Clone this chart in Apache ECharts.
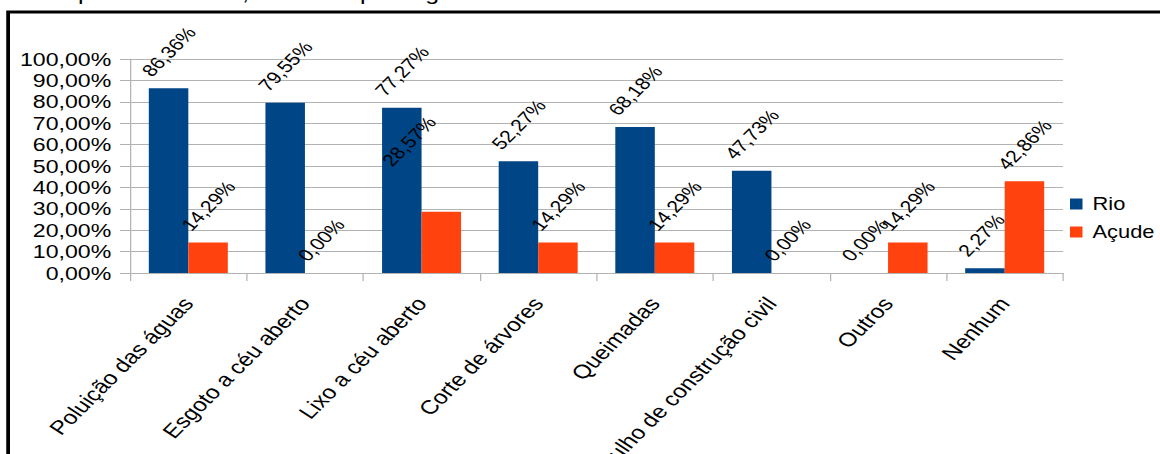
<!DOCTYPE html>
<html>
<head>
<meta charset="utf-8">
<script src="https://cdn.jsdelivr.net/npm/echarts@6/dist/echarts.min.js"></script>
<style>
  html, body { margin: 0; padding: 0; background: #fff; overflow: hidden; }
  #wrap { width: 1160px; height: 454px; overflow: hidden; position: relative; }
  /* the chart is laid out narrower and widened horizontally */
  #chart { width: 928px; height: 454px; transform: scaleX(1.25); transform-origin: 0 0; }
</style>
</head>
<body>
<div id="wrap"><div id="chart"></div></div>
<script>
// Problemas ambientais citados, por tipo de ambiente (valores em %)
const categories = [
  'Poluição das águas',
  'Esgoto a céu aberto',
  'Lixo a céu aberto',
  'Corte de árvores',
  'Queimadas',
  'Entulho de construção civil',
  'Outros',
  'Nenhum'
];
const rio   = [86.36, 79.55, 77.27, 52.27, 68.18, 47.73, 0.00, 2.27];
const acude = [14.29, 0.00, 28.57, 14.29, 14.29, 0.00, 14.29, 42.86];
const seriesNames = ['Rio', 'Açude'];
const yTicks = [0, 10, 20, 30, 40, 50, 60, 70, 80, 90, 100];

const pct = v => Number(v).toFixed(2).replace('.', ',') + '%';
const FONT = '"Liberation Sans", Arial, sans-serif';
const GRID = '#b3b3b3';

const chart = echarts.init(document.getElementById('chart'), null, { renderer: 'svg' });

const dataLabel = {
  show: true,
  position: [-2, -14],
  rotate: 51,
  align: 'left',
  verticalAlign: 'middle',
  color: '#000',
  fontFamily: FONT,
  fontSize: 17,
  formatter: p => pct(p.value)
};

// the "Lixo a céu aberto" label of Açude sits higher, next to the Rio label
const acudeData = acude.map((v, i) =>
  i === 2 ? { value: v, label: { position: [-28, -48] } } : v
);

chart.setOption({
  animation: false,
  backgroundColor: '#fff',
  textStyle: { fontFamily: FONT },
  graphic: [
    {
      type: 'text',
      x: 378, y: 3,
      style: {
        text: 'Gráfico 4 – Problemas ambientais citados pelos visitados, divididos por região',
        fill: '#000',
        font: '20px ' + FONT,
        textAlign: 'right',
        textVerticalAlign: 'bottom'
      },
      z: 10
    },
    {
      type: 'rect',
      shape: { x: 6.5, y: 12, width: 1000, height: 600 },
      style: { fill: 'none', stroke: '#000', lineWidth: 3 },
      z: 10
    }
  ],
  legend: {
    orient: 'vertical',
    left: 851,
    top: 190,
    itemWidth: 10,
    itemHeight: 11,
    itemGap: 10,
    icon: 'rect',
    data: seriesNames,
    textStyle: { color: '#000', fontSize: 17.5, lineHeight: 18, fontFamily: FONT, padding: [0, 0, 0, 3] }
  },
  grid: { left: 104, right: 77.6, top: 59, height: 214, containLabel: false, outerBoundsMode: 'none' },
  xAxis: {
    type: 'category',
    data: categories,
    axisLine: { lineStyle: { color: GRID } },
    axisTick: { show: true, length: 8, lineStyle: { color: GRID } },
    axisLabel: {
      interval: 0,
      rotate: 51,
      margin: 27,
      color: '#000',
      fontSize: 19.5,
      fontFamily: FONT,
      hideOverlap: false
    }
  },
  yAxis: {
    type: 'value',
    min: yTicks[0],
    max: yTicks[yTicks.length - 1],
    interval: yTicks[1] - yTicks[0],
    axisLine: { show: true, lineStyle: { color: GRID } },
    axisTick: { show: true, length: 8, lineStyle: { color: GRID } },
    splitLine: { lineStyle: { color: GRID } },
    axisLabel: {
      margin: 15,
      color: '#000',
      fontSize: 18.5,
      lineHeight: 18,
      fontFamily: FONT,
      showMinLabel: true,
      showMaxLabel: true,
      hideOverlap: false,
      formatter: v => pct(v)
    }
  },
  series: [
    {
      name: seriesNames[0],
      type: 'bar',
      data: rio,
      barWidth: 31.6,
      barGap: '0%',
      itemStyle: { color: '#004586' },
      label: dataLabel
    },
    {
      name: seriesNames[1],
      type: 'bar',
      data: acudeData,
      barWidth: 31.6,
      barGap: '0%',
      itemStyle: { color: '#ff420e' },
      label: dataLabel
    }
  ]
});
</script>
</body>
</html>
